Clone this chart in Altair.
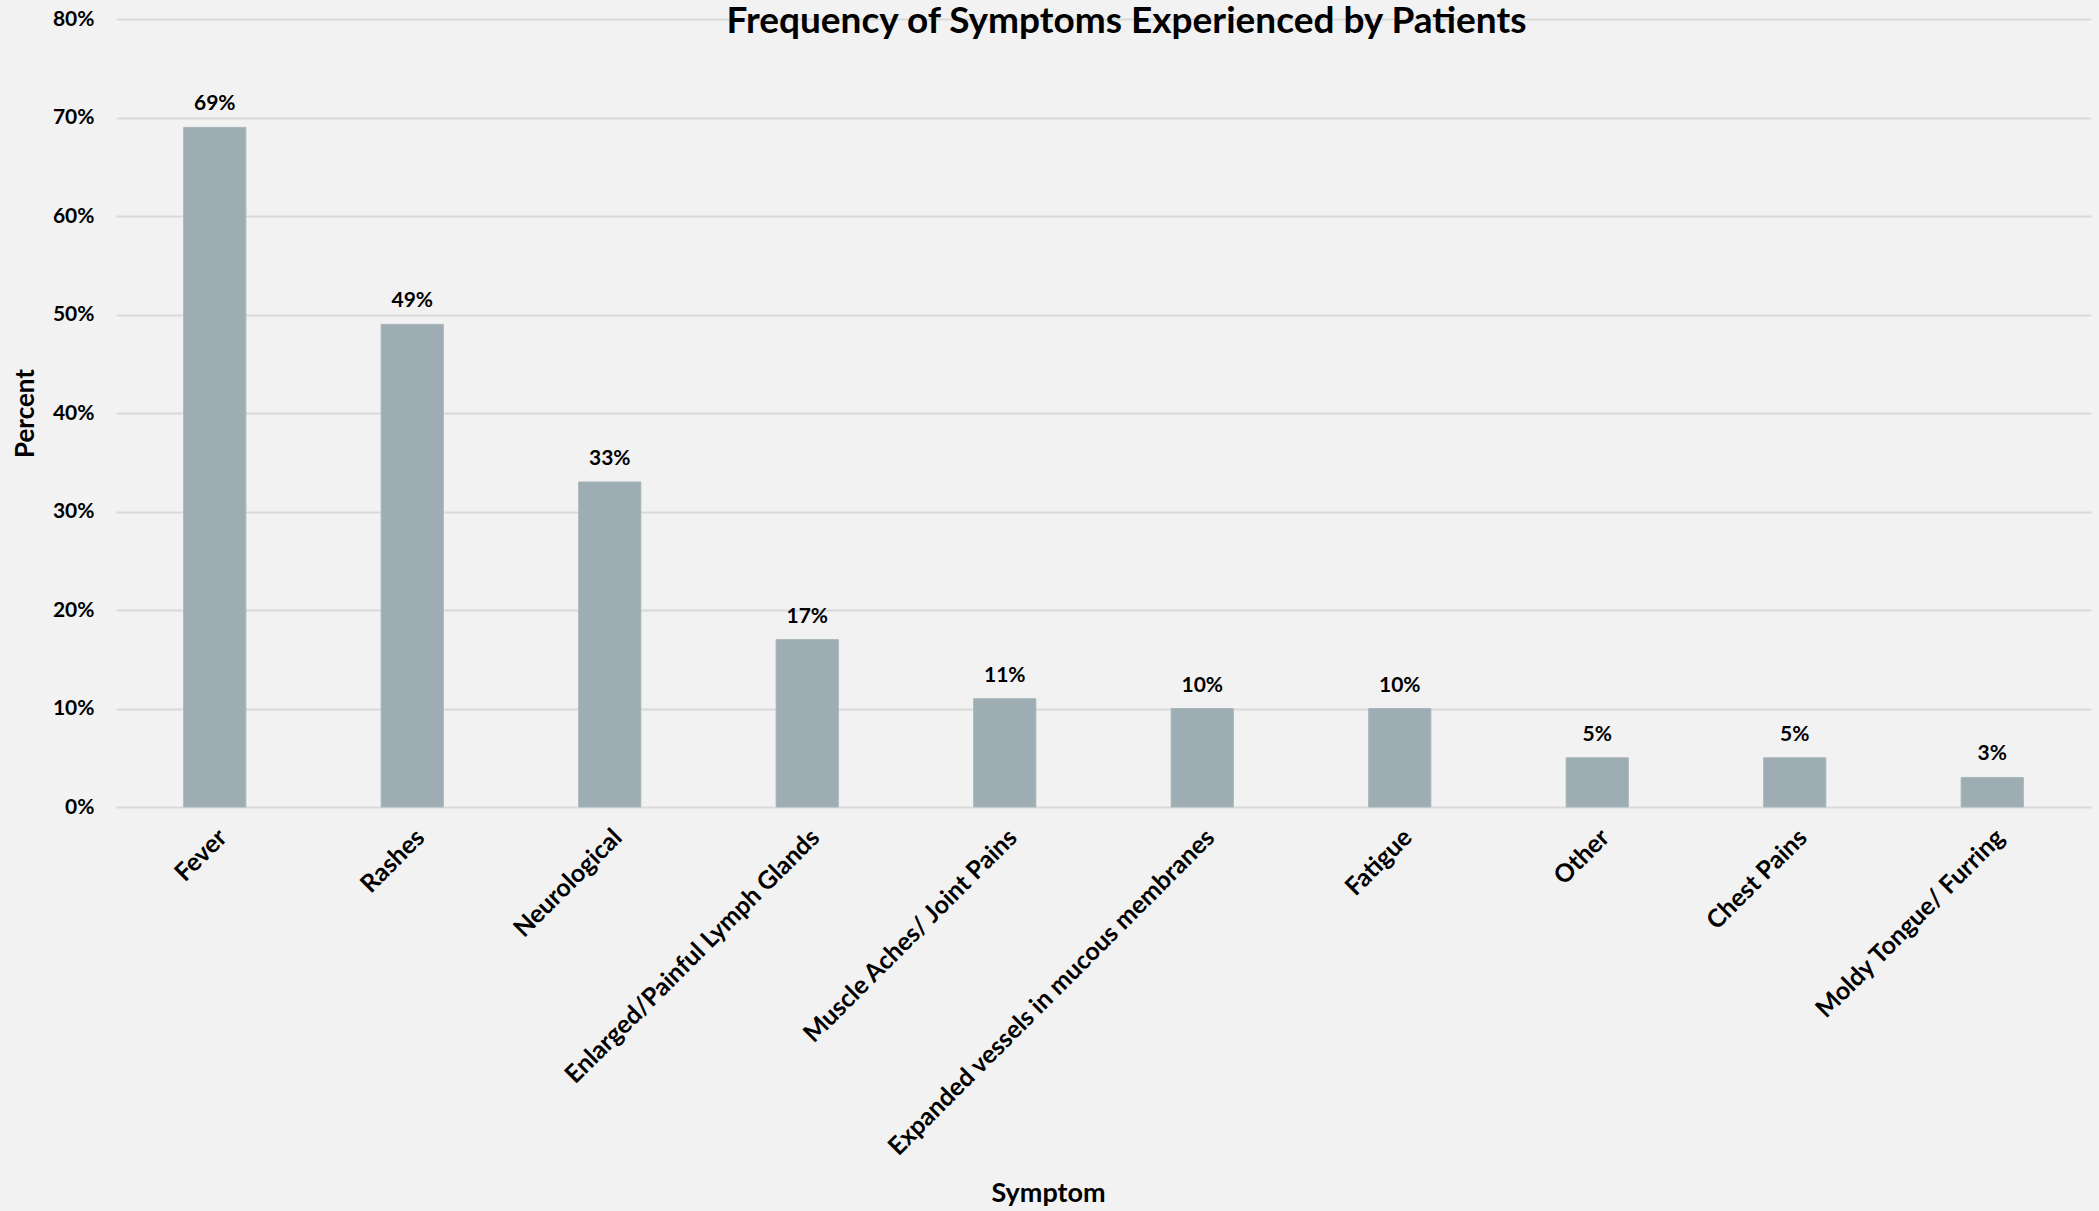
import altair as alt
import pandas as pd

symptoms = ["Fever", "Rashes", "Neurological", "Enlarged/Painful Lymph Glands",
            "Muscle Aches/ Joint Pains", "Expanded vessels in mucous membranes",
            "Fatigue", "Other", "Chest Pains", "Moldy Tongue/ Furring"]
percents = [69, 49, 33, 17, 11, 10, 10, 5, 5, 3]

df = pd.DataFrame({"Symptom": symptoms, "Percent": percents})
df["Label"] = [f"{p}%" for p in percents]

FONT = "Lato"

base = alt.Chart(df).encode(
    x=alt.X("Symptom:N", sort=symptoms, title="Symptom",
            scale=alt.Scale(paddingInner=0.685, paddingOuter=0.3425),
            axis=alt.Axis(labelAngle=-45, labelAlign="right", labelBaseline="middle",
                          labelFontSize=25, labelFontWeight="bold", labelFont=FONT,
                          labelColor="black", labelPadding=26, labelOffset=8,
                          labelLimit=600,
                          ticks=False, domain=False, grid=False,
                          titleFontSize=27, titleFontWeight="bold", titleFont=FONT,
                          titleColor="black", titleY=373, titleX=932,
                          titleAlign="center", titleBaseline="top")),
    y=alt.Y("Percent:Q", title="Percent",
            scale=alt.Scale(domain=[0, 80], nice=False),
            axis=alt.Axis(values=[0, 10, 20, 30, 40, 50, 60, 70, 80],
                          labelExpr="datum.value + '%'",
                          labelFontSize=21, labelFontWeight="bold", labelFont=FONT,
                          labelColor="black", labelPadding=22,
                          ticks=False, domain=False, grid=True,
                          gridColor="#D9D9D9", gridWidth=2,
                          titleFontSize=26, titleFontWeight="bold", titleFont=FONT,
                          titleColor="black", titlePadding=14)),
)

bars = base.mark_bar(color="#9EADB3", stroke="#A9B7BC", strokeWidth=1)
labels = base.mark_text(baseline="bottom", dy=-13, fontSize=21, fontWeight="bold",
                        font=FONT, color="black").encode(text="Label:N")

chart = (bars + labels).properties(
    width=1975, height=788,
    title=alt.TitleParams("Frequency of Symptoms Experienced by Patients",
                          fontSize=37, fontWeight="bold", font=FONT, color="black",
                          anchor="middle", offset=-33, dx=23),
    autosize=alt.AutoSizeParams(type="none"),
    padding={"left": 116, "top": 19, "right": 8, "bottom": 404},
    background="#F2F2F2",
).configure_view(stroke=None)

chart.save("out.html", embed_options={"renderer": "svg", "actions": False})
